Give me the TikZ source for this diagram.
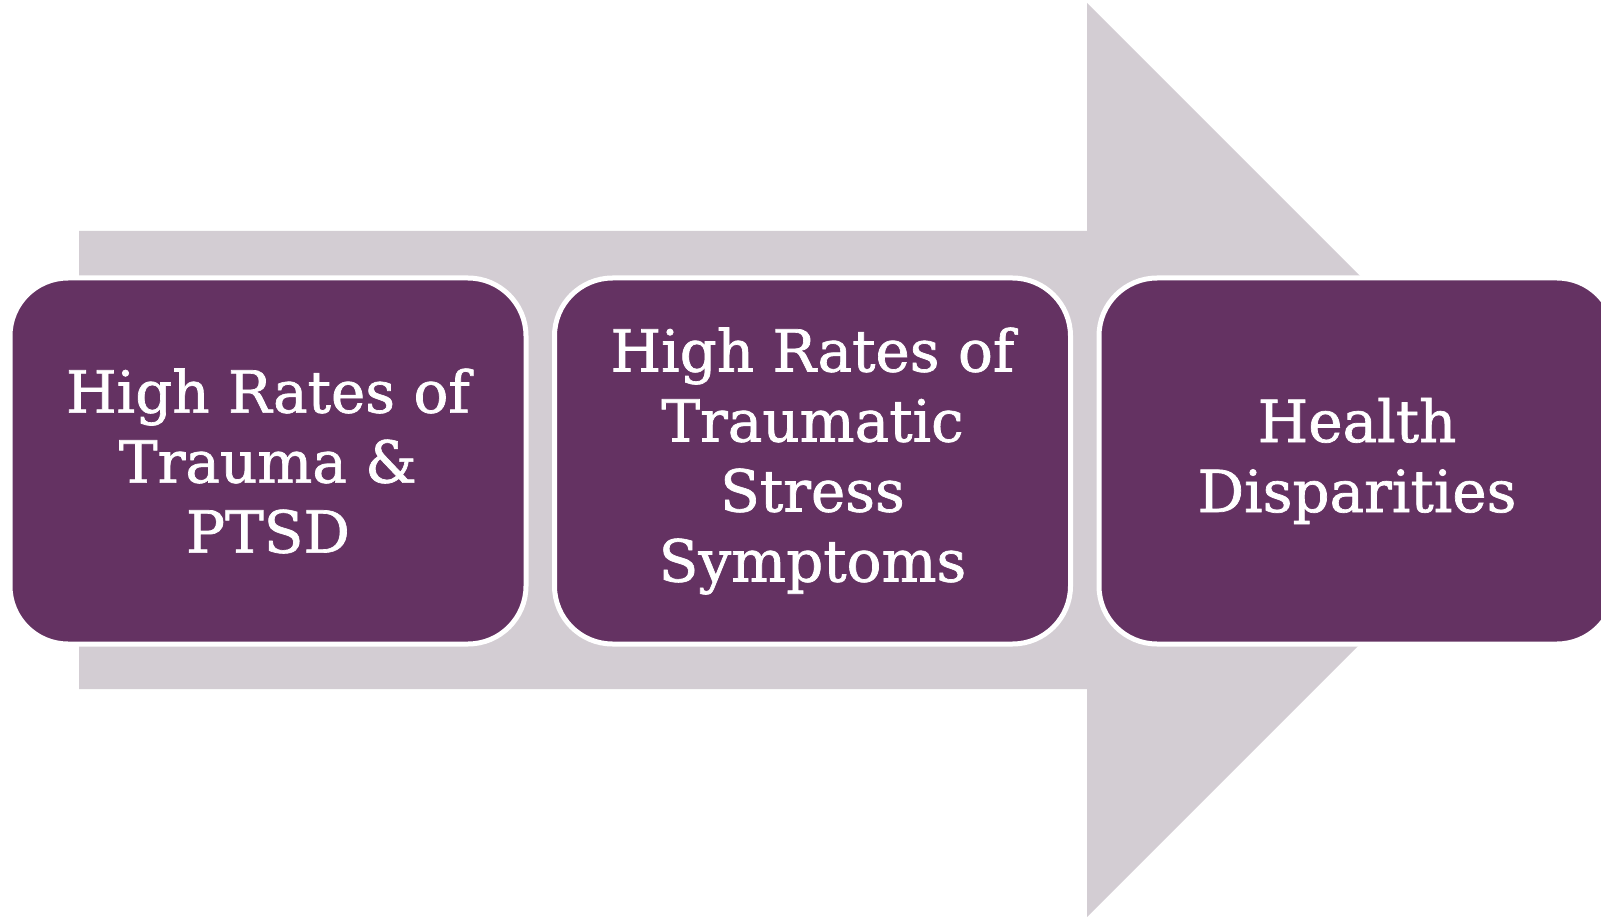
\documentclass[tikz,border=0pt]{standalone}
\usepackage{fontspec}
\setmainfont{DejaVu Serif}
\newfontfamily\stagefont{DejaVu Serif}[FakeBold=1.2]
\definecolor{boxpurple}{RGB}{100,50,98}
\definecolor{arrowgray}{RGB}{211,205,211}
\tikzset{
  stagebox/.style={rectangle, rounded corners=58pt, fill=boxpurple, draw=white,
    line width=5pt, minimum width=516pt, minimum height=366pt, inner sep=0pt,
    text=white, align=center, font=\stagefont\fontsize{58}{70}\selectfont},
}
\begin{document}
\begin{tikzpicture}[x=1pt,y=-1pt]
\useasboundingbox (0,0) rectangle (1601,917);
\clip (0,0) rectangle (1601,917);
\fill[arrowgray] (79,231) -- (1087,231) -- (1087,3) -- (1544,460) -- (1087,917) -- (1087,689) -- (79,689) -- cycle;
\node[stagebox] (b1) at (268,461) {High Rates of\\Trauma \&\\PTSD};
\node[stagebox] (b2) at (812.5,461) {High Rates of\\Traumatic\\Stress\\Symptoms};
\node[stagebox] (b3) at (1357,461) {Health\\Disparities};
\end{tikzpicture}
\end{document}
